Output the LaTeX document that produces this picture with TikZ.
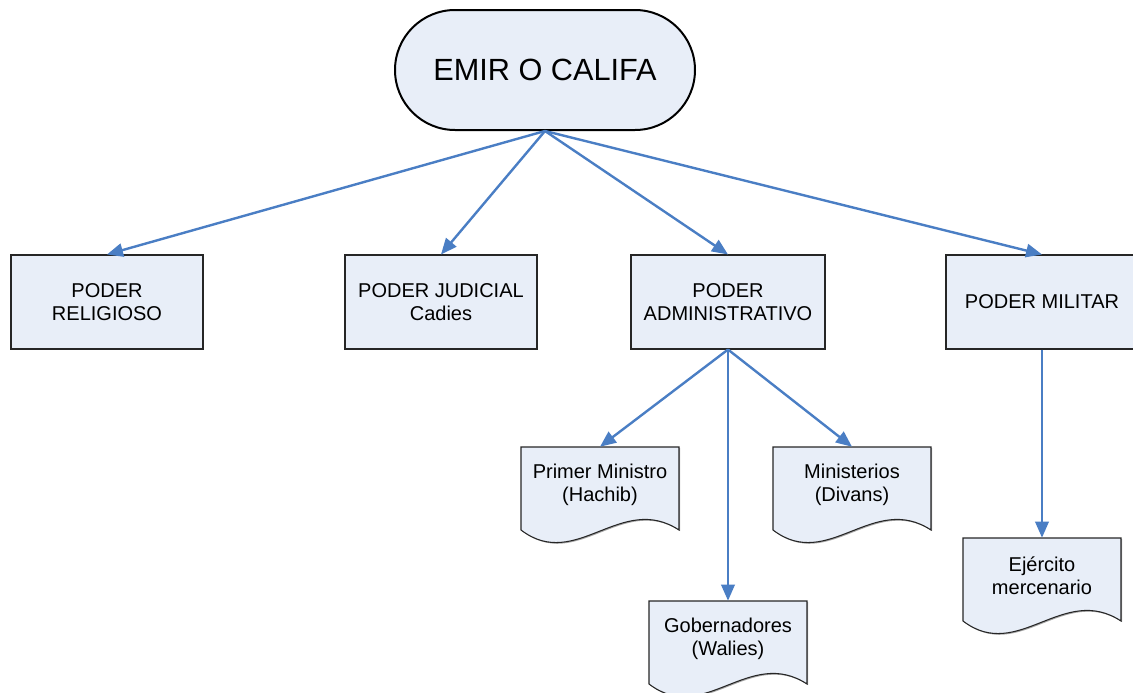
\documentclass[tikz,border=0pt]{standalone}
\usepackage{fontspec}
\setmainfont{Liberation Sans}
\usetikzlibrary{arrows.meta,shadows}
\definecolor{boxfill}{HTML}{E8EEF8}
\definecolor{arrblue}{HTML}{4A7EC4}
\tikzset{
  boxnode/.style={draw=black!85, line width=0.8pt, fill=boxfill,
    drop shadow={opacity=1, fill=gray!70, shadow xshift=0.9pt, shadow yshift=-0.9pt},
    minimum width=144pt, minimum height=70.5pt, inner sep=2pt,
    align=center, font=\fontsize{15}{17}\selectfont},
  pill/.style={draw=black, line width=1.5pt, fill=boxfill,
    minimum width=225pt, minimum height=90pt, rounded corners=45pt,
    font=\fontsize{23}{27}\selectfont},
  docpath/.style={draw=black!85, line width=0.8pt, fill=boxfill},
  docshadow/.style={fill=gray!70},
  doctext/.style={inner sep=0pt, minimum width=118.5pt, minimum height=56.25pt,
    align=center, font=\fontsize{15}{17}\selectfont},
  arr/.style={draw=arrblue, line width=1.8pt, -{Triangle[length=12pt,width=10pt]}},
}
\newcommand\docnode[4]{%
  \fill[docshadow] (#2+1.2,#3+1.2) -- ++(158,0) -- ++(0,83) .. controls +(-58,-38) and +(55,42) .. ++(-158,0) -- cycle;
  \path[docpath] (#2,#3) -- ++(158,0) -- ++(0,83) .. controls +(-58,-38) and +(55,42) .. ++(-158,0) -- cycle;
  \node[doctext] (#1) at (#2+79,#3+37.5) {#4};
}
\begin{document}
\begin{tikzpicture}[x=0.75pt,y=-0.75pt]
\useasboundingbox (0,0) rectangle (1133,693);
\clip (0,0) rectangle (1133,693);

\node[pill] (emir) at (545,70) {EMIR O CALIFA};

\node[boxnode] (rel) at (107,302) {PODER\\RELIGIOSO};
\node[boxnode] (jud) at (441,302) {PODER JUDICIAL\\Cadies};
\node[boxnode, minimum width=145.5pt] (adm) at (728,302) {PODER\\ADMINISTRATIVO};
\node[boxnode] (mil) at (1042,302) {PODER MILITAR};

\docnode{pm}{521}{447}{Primer Ministro\\(Hachib)}
\docnode{min}{773}{447}{Ministerios\\(Divans)}
\docnode{gob}{649}{601}{Gobernadores\\(Walies)}
\docnode{ejc}{963}{538}{Ejército\\mercenario}

\draw[arr] (emir.south) -- (rel.north);
\draw[arr] (emir.south) -- (jud.north);
\draw[arr] (emir.south) -- (adm.north);
\draw[arr] (emir.south) -- (mil.north);

\draw[arr] (adm.south) -- (pm.north);
\draw[arr] (adm.south) -- (gob.north);
\draw[arr] (adm.south) -- (min.north);
\draw[arr] (mil.south) -- (ejc.north);
\end{tikzpicture}
\end{document}
